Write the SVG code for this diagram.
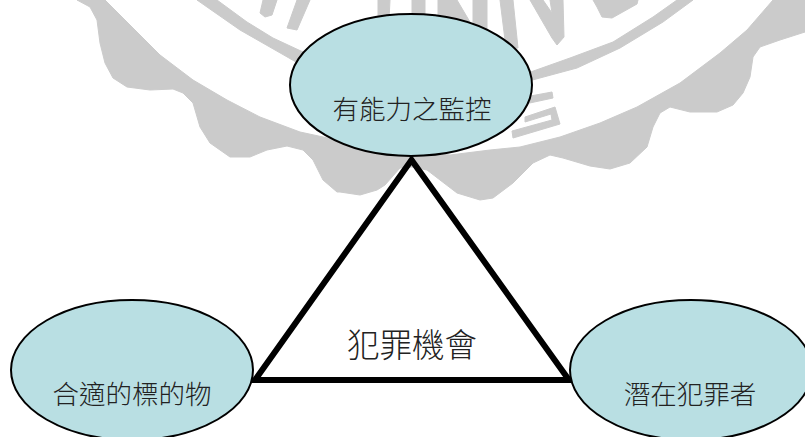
<svg xmlns="http://www.w3.org/2000/svg" width="805" height="437" viewBox="0 0 805 437">
<style>
.wm{fill:#cbcbcb;stroke:#cbcbcb;stroke-width:1;stroke-linejoin:round}
.node{fill:#b9dfe3;stroke:#000;stroke-width:2}
.lbl{font-family:"Noto Sans CJK TC","Noto Sans CJK SC",sans-serif;font-weight:300;fill:#222;text-anchor:middle}
</style>
<rect width="805" height="437" fill="#fff"/>
<g id="watermark">
<path class="wm" d="M77 0L105 0L130 25L160 55L193 80L227 100L260 117L300 132L337 140L411 150L450 155L490 150L520 147L560 137L600 123L637 107L680 83L720 53L747 30L773 0L805 0L805 32L780 40L760 47L753 57L750 77L743 93L733 105L717 112L690 112L670 107L660 113L653 127L647 147L630 163L610 169L590 166L563 158L550 155L533 163L513 183L493 198L480 200L457 193L440 180L427 170L412 167L400 168L385 185L377 190L360 195L340 192L337 192L323 180L313 160L303 150L287 146L267 150L250 157L230 157L210 143L200 127L193 103L183 93L173 89L150 90L127 87L113 78L105 63L100 43L97 20L90 7Z"/>
<path class="wm" d="M197 0L217 0L247 22L273 38L303 52L296 62L240 30L207 7Z"/>
<path class="wm" d="M263 0L277 0L272 15L265 17L260 13Z"/>
<path class="wm" d="M297 0L310 0L297 30L287 28Z"/>
<path class="wm" d="M378 0L390 0L389 20L378 20Z"/>
<path class="wm" d="M412 0L425 0L425 20L412 20Z"/>
<path class="wm" d="M438 0L457 0L470 22L438 22Z"/>
<path class="wm" d="M473 0L487 0L487 30L473 30Z"/>
<path class="wm" d="M500 0L513 0L518 48L506 48Z"/>
<path class="wm" d="M530 0L543 0L552 13L550 0L563 0L564 37L557 45L552 38Z"/>
<path class="wm" d="M593 0L638 0L637 4L612 18L602 17L597 7Z"/>
<path class="wm" d="M525 74L570 58L613 42L653 17L677 0L693 0L663 22L620 48L577 68L525 82Z"/>
<path class="wm" d="M525 97L552 92L553 98L525 104Z"/>
<path class="wm" d="M525 117L555 107L560 124L513 138L512 131L552 120L551 114L525 122Z"/>
</g>
<g id="connectors" fill="none" stroke="#000" stroke-width="6" stroke-linejoin="miter">
<path d="M411.500 160L255 380L569 380Z"/>
</g>
<g id="node-top">
<ellipse class="node" cx="411" cy="85" rx="121" ry="71"/>
<text class="lbl" x="412" y="119" font-size="26.5">有能力之監控</text>
</g>
<g id="node-left">
<ellipse class="node" cx="132" cy="370" rx="121" ry="70"/>
<text class="lbl" x="132" y="404" font-size="26.5">合適的標的物</text>
</g>
<g id="node-right">
<ellipse class="node" cx="691" cy="370" rx="121" ry="70"/>
<text class="lbl" x="690" y="404" font-size="26.5">潛在犯罪者</text>
</g>
<g id="center-label">
<text class="lbl" x="412" y="357" font-size="32.5">犯罪機會</text>
</g>
</svg>
